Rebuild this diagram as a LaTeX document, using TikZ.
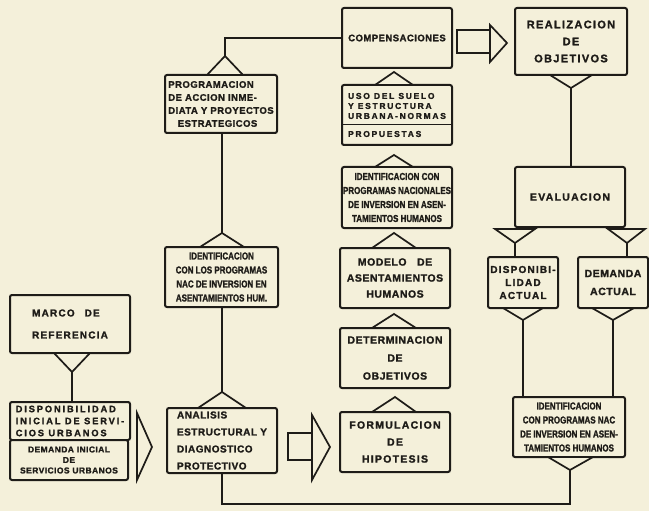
\documentclass[tikz,border=0pt]{standalone}
\usepackage{fontspec}
\setmainfont{Liberation Sans}
\newfontfamily\dfont{Liberation Sans}[UprightFont=* Bold, FakeBold=1.5, FakeStretch=0.8]
\newfontfamily\afont{Liberation Sans}[UprightFont=* Bold, FakeBold=1.5, LetterSpace=5]
\newfontfamily\bfont{Liberation Sans}[UprightFont=* Bold, FakeBold=1.5, LetterSpace=12]
\newfontfamily\cfont{Liberation Sans}[UprightFont=* Bold, FakeBold=1.5, LetterSpace=20]
\definecolor{paper}{RGB}{244,240,218}
\definecolor{ink}{RGB}{30,28,24}

\begin{document}
\begin{tikzpicture}[x=1pt,y=-1pt,
		box/.style={shape=rectangle, draw=ink, fill=paper, text=ink, line width=2pt, rounded corners=2pt, inner sep=1pt, align=center},
		dn/.style 2 args={font=\dfont\fontsize{#1}{#2}\selectfont},
		fa/.style 2 args={font=\afont\fontsize{#1}{#2}\selectfont},
		fb/.style 2 args={font=\bfont\fontsize{#1}{#2}\selectfont},
		fc/.style 2 args={font=\cfont\fontsize{#1}{#2}\selectfont},
		tri/.style={draw=ink, fill=paper, line width=1.7pt, line join=miter},
		link/.style={draw=ink, line width=1.6pt},
]

\fill[paper] (0,0) rectangle (649,511);
\useasboundingbox (0,0) rectangle (649,511);

\node[box,fb={10}{22},minimum width=120,minimum height=58,align=left] (marco) at (70,324) {MARCO\quad DE\\REFERENCIA};
\node[box,fc={9.3}{12},minimum width=120,minimum height=38,align=left] (dispini) at (70,421) {DISPONIBILIDAD\\INICIAL DE SERVI-\\CIOS URBANOS};
\node[box,fa={8.5}{10.5},minimum width=118,minimum height=40] (demini) at (69,460) {DEMANDA INICIAL\\DE\\SERVICIOS URBANOS};

\node[box,fa={9.5}{13},minimum width=112,minimum height=58,align=left] (program) at (221,104) {PROGRAMACION\\DE ACCION INME-\\DIATA Y PROYECTOS\\\quad ESTRATEGICOS};
\node[box,dn={10}{14},minimum width=113,minimum height=60] (identlos) at (221.5,277) {IDENTIFICACION\\CON LOS PROGRAMAS\\NAC DE INVERSION EN\\ASENTAMIENTOS HUM.};
\node[box,fa={10}{17},minimum width=110,minimum height=65,align=left] (analisis) at (222,440.5) {ANALISIS\\ESTRUCTURAL Y\\DIAGNOSTICO\\PROTECTIVO};

\node[box,fa={9.5}{16},minimum width=110,minimum height=60] (compens) at (397,38) {COMPENSACIONES};
\node[box,fc={8.5}{10},minimum width=110,minimum height=60,align=left] (uso) at (397,115) {USO DEL SUELO\\Y ESTRUCTURA\\URBANA-NORMAS\\[8pt]PROPUESTAS};
\node[box,dn={10}{14},minimum width=110,minimum height=61] (identnac) at (397,197.5) {IDENTIFICACION CON\\PROGRAMAS NACIONALES\\DE INVERSION EN ASEN-\\TAMIENTOS HUMANOS};
\node[box,fa={10.5}{16},minimum width=110,minimum height=60] (modelo) at (395,278) {MODELO\quad DE\\ASENTAMIENTOS\\HUMANOS};
\node[box,fa={10.5}{18},minimum width=110,minimum height=60] (determ) at (395,358) {DETERMINACION\\DE\\OBJETIVOS};
\node[box,fb={10.5}{17},minimum width=110,minimum height=60] (formul) at (395,442) {FORMULACION\\DE\\HIPOTESIS};

\node[box,fb={11}{17},minimum width=112,minimum height=67] (realiz) at (571,41.5) {REALIZACION\\DE\\OBJETIVOS};
\node[box,fb={10.5}{16},minimum width=110,minimum height=60] (evalua) at (570,197) {EVALUACION};
\node[box,fb={10}{13},minimum width=70,minimum height=51] (dispact) at (523,282.5) {DISPONIBI-\\LIDAD\\ACTUAL};
\node[box,fa={10.5}{18},minimum width=70,minimum height=51] (demact) at (613,282.5) {DEMANDA\\ACTUAL};
\node[box,dn={10}{14},minimum width=112,minimum height=60] (identright) at (569,427) {IDENTIFICACION\\CON PROGRAMAS NAC\\DE INVERSION EN ASEN-\\TAMIENTOS HUMANOS};

% separator in uso
\draw[ink, line width=1pt] (uso.west |- 0,125) -- (uso.east |- 0,125);

% triangles
\draw[tri] (54,353) -- (90,353) -- (72,372) coordinate (tmarco) -- cycle;
\draw[tri] (207,75) -- (243,75) -- (225,56) coordinate (tprog) -- cycle;
\draw[tri] (200,247) -- (244,247) -- (222,233) coordinate (tidl) -- cycle;
\draw[tri] (198,408) -- (246,408) -- (222,392) coordinate (tana) -- cycle;
\draw[tri] (375,85) -- (413,85) -- (394,72) -- cycle;
\draw[tri] (375,167) -- (413,167) -- (394,155) -- cycle;
\draw[tri] (372,248) -- (416,248) -- (394,233) -- cycle;
\draw[tri] (372,328) -- (416,328) -- (394,314) -- cycle;
\draw[tri] (372,412) -- (416,412) -- (395,397) -- cycle;
\draw[tri] (550,75) -- (592,75) -- (571,88) coordinate (treal) -- cycle;
\draw[tri] (495,229) -- (535,229) -- (515,243) coordinate (tevl) -- cycle;
\draw[tri] (608,229) -- (645,229) -- (627,243) coordinate (tevr) -- cycle;
\draw[tri] (503,308) -- (543,308) -- (523,320) coordinate (tdisp) -- cycle;
\draw[tri] (592,308) -- (634,308) -- (613,320) coordinate (tdem) -- cycle;
\draw[tri] (548,457) -- (593,457) -- (570,470) coordinate (tidr) -- cycle;

% big arrows
\draw[tri] (137,413) -- (137,480) -- (152,447) -- cycle;
\draw[tri] (288,433) rectangle (312,460);
\draw[tri] (312,415) -- (312,480) -- (330,447) -- cycle;
\draw[tri] (457,30) rectangle (490,53);
\draw[tri] (490,25) -- (490,62) -- (507,43) -- cycle;

% connectors
\draw[link] (compens.west) -| (tprog);
\draw[link] (tidl |- program.south) -- (tidl);
\draw[link] (tana |- identlos.south) -- (tana);
\draw[link] (tmarco) -- (tmarco |- dispini.north);
\draw[link] (analisis.south) -- ++(0,30) -| (tidr);
\draw[link] (treal) -- (treal |- evalua.north);
\draw[link] (tevl) -- (tevl |- dispact.north);
\draw[link] (tevr) -- (tevr |- demact.north);
\draw[link] (tdisp) -- (tdisp |- identright.north);
\draw[link] (tdem) -- (tdem |- identright.north);

\end{tikzpicture}
\end{document}
